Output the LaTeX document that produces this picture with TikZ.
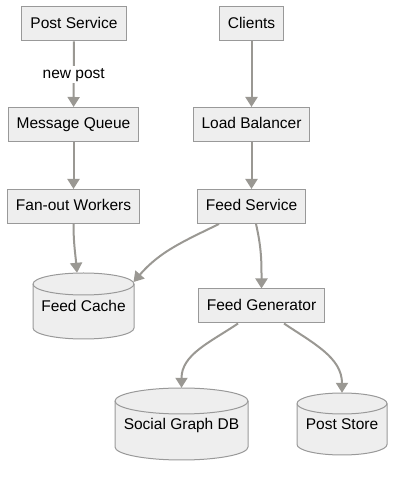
\documentclass[tikz,border=0pt]{standalone}
\usepackage{fontspec}
\setmainfont{Liberation Sans}
\usetikzlibrary{arrows.meta}
\definecolor{boxfill}{HTML}{EEEEEE}
\definecolor{boxline}{HTML}{999999}
\definecolor{edgeline}{RGB}{154,152,147}
% #1,#2 centre, #3 width, #4 height, #5 lid radius
\newcommand{\dbcyl}[5]{%
  \draw[boxline,fill=boxfill,line width=1bp] ({#1-#3/2},{#2+#4/2-#5}) -- ({#1-#3/2},{#2-#4/2+#5})
    arc[start angle=180,end angle=360,x radius={#3/2*1bp},y radius={#5*1bp}]
    -- ({#1+#3/2},{#2+#4/2-#5})
    arc[start angle=0,end angle=180,x radius={#3/2*1bp},y radius={#5*1bp}] -- cycle;
  \draw[boxline,line width=1bp] ({#1-#3/2},{#2+#4/2-#5})
    arc[start angle=180,end angle=360,x radius={#3/2*1bp},y radius={#5*1bp}];}
\begin{document}
\begin{tikzpicture}[x=1bp,y=1bp,
  every node/.style={font=\fontsize{15.5bp}{18bp}\selectfont,text height=11bp,text depth=2bp},
  proc/.style={draw=boxline,fill=boxfill,line width=1bp,minimum height=34bp,inner xsep=8.5bp,inner ysep=0pt},
  dbase/.style={inner sep=0pt,text depth=0pt},
  flow/.style={draw=edgeline,line width=2bp,-{Triangle[width=12bp,length=10bp]}}]
\useasboundingbox (0,0) rectangle (402,477);
\node[proc] (post) at (74,453) {Post Service};
\node[proc] (clients) at (251.5,453) {Clients};
\node[proc] (queue) at (73.5,352.5) {Message Queue};
\node[proc] (lb) at (251.5,352.5) {Load Balancer};
\node[proc] (fanout) at (73.5,270.5) {Fan-out Workers};
\node[proc] (feedsvc) at (251.5,270.5) {Feed Service};
\dbcyl{83.5}{171}{101}{66}{11}
\node[dbase,minimum width=101bp,minimum height=66bp] (cache) at (83.5,171) {Feed Cache};
\node[proc] (gen) at (261.5,171) {Feed Generator};
\dbcyl{181.5}{53}{133}{72}{13}
\node[dbase,minimum width=133bp,minimum height=72bp] (graph) at (181.5,53) {Social Graph DB};
\dbcyl{342}{53}{90}{62}{10.5}
\node[dbase,minimum width=90bp,minimum height=62bp] (poststore) at (342,53) {Post Store};
\draw[flow] (post) -- node[fill=white,inner sep=2bp] {new post} (queue);
\draw[flow] (clients) -- (lb);
\draw[flow] (queue) -- (fanout);
\draw[flow] (lb) -- (feedsvc);
\draw[flow] (fanout.south) to[out=-90,in=95] ([xshift=-6.5bp]cache.north);
\draw[flow] ([xshift=-32.5bp]feedsvc.south) to[out=-154,in=49] ([shift={(50,24)}]cache.center);
\draw[flow] ([xshift=4.5bp]feedsvc.south) to[out=-77,in=90] (gen.north);
\draw[flow] ([xshift=-23.5bp]gen.south) to[out=-146,in=90] (graph.north);
\draw[flow] ([xshift=22.5bp]gen.south) to[out=-34,in=90] (poststore.north);
\end{tikzpicture}
\end{document}
